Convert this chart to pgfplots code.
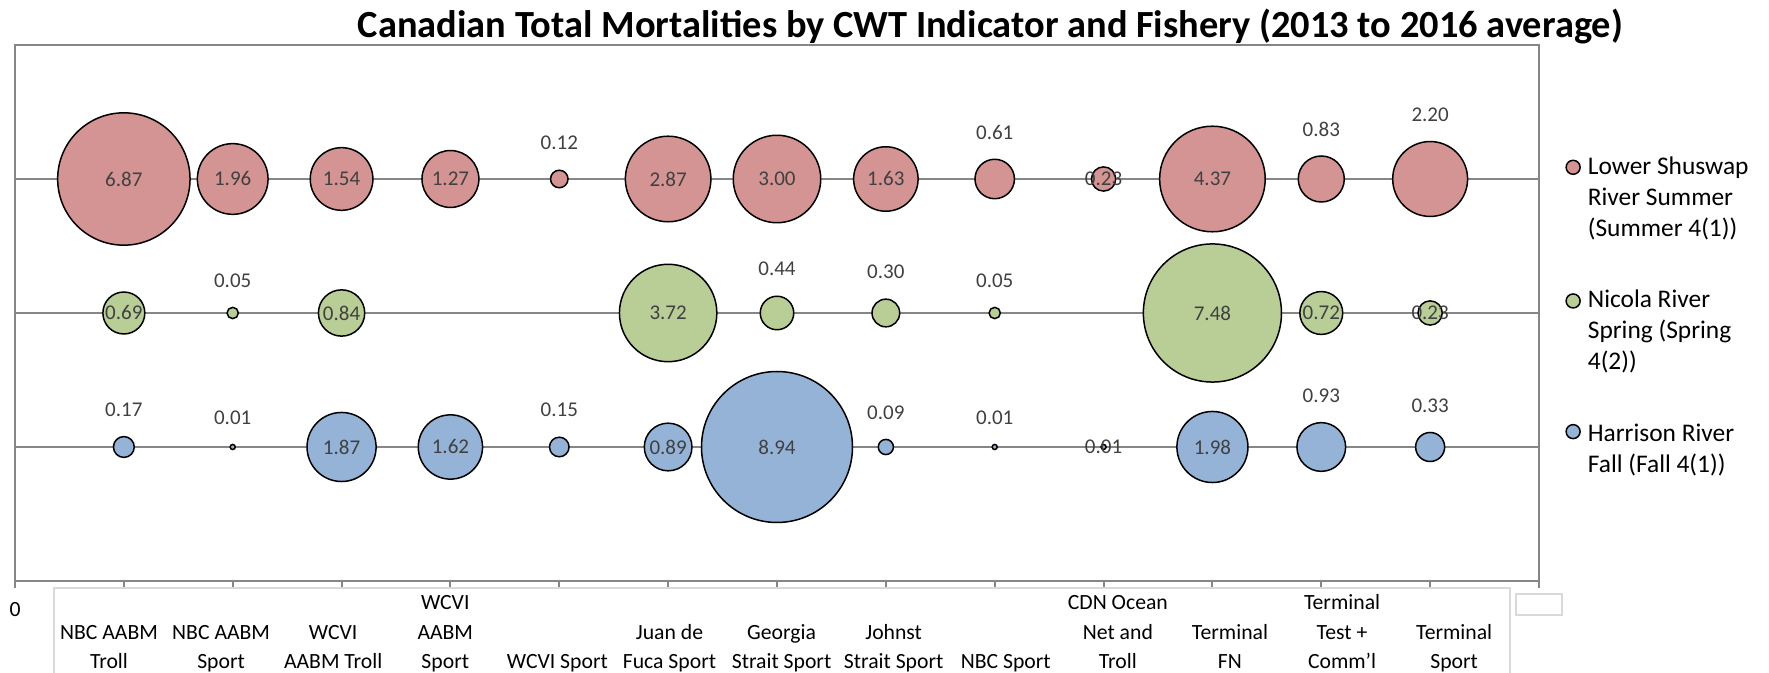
\documentclass[border=0pt]{standalone}
\usepackage{pgfplots}
\pgfplotsset{compat=1.18}
\usepackage{pgfplotstable}
\usepackage{fontspec}
\setmainfont{Carlito}
\definecolor{cRed}{HTML}{D49494}
\definecolor{cGreen}{HTML}{B9CD96}
\definecolor{cBlue}{HTML}{95B3D7}
\definecolor{cAxis}{HTML}{868686}
\definecolor{cLab}{HTML}{404040}
\definecolor{cBox}{HTML}{D9D9D9}

\pgfplotstableread{
x y v a
1 3 6.87 0
2 3 1.96 0
3 3 1.54 0
4 3 1.27 0
5 3 0.12 1
6 3 2.87 0
7 3 3.00 0
8 3 1.63 0
9 3 0.61 1
10 3 0.23 0
11 3 4.37 0
12 3 0.83 1
13 3 2.20 1
}\shuswap
\pgfplotstableread{
x y v a
1 2 0.69 0
2 2 0.05 1
3 2 0.84 0
6 2 3.72 0
7 2 0.44 1
8 2 0.30 1
9 2 0.05 1
11 2 7.48 0
12 2 0.72 0
13 2 0.23 0
}\nicola
\pgfplotstableread{
x y v a
1 1 0.17 1
2 1 0.01 1
3 1 1.87 0
4 1 1.62 0
5 1 0.15 1
6 1 0.89 0
7 1 8.94 0
8 1 0.09 1
9 1 0.01 1
10 1 0.01 0
11 1 1.98 0
12 1 0.93 1
13 1 0.33 1
}\harrison

\pgfplotsset{
  bubble/.style={
    scatter, only marks, mark=*,
    point meta=\thisrow{v},
    visualization depends on={12.625*sqrt(\thisrow{v}) \as \myrad},
    scatter/use mapped color={draw=black, fill=#1},
    scatter/@pre marker code/.append style={/tikz/mark size=\myrad},
    line width=0.75pt,
  },
  vlabels/.style={
    forget plot, only marks, mark=*, mark size=0pt, mark options={draw=none, fill=none},
    point meta=\thisrow{v},
    visualization depends on={12.625*sqrt(\thisrow{v}) \as \myrad},
    visualization depends on={\thisrow{a} \as \mylift},
    visualization depends on={\thisrow{v} \as \myval},
    nodes near coords={\pgfmathprintnumber[fixed,fixed zerofill,precision=2]{\myval}},
    every node near coord/.append style={anchor=center, text=cLab, font=\fontsize{10.5}{12}\selectfont, inner sep=0pt, yshift={\mylift*(\myrad+13.5)}},
  },
}

\begin{document}
\begin{tikzpicture}
\begin{axis}[
  scale only axis, width=762pt, height=268pt,
  xmin=0, xmax=14, ymin=0, ymax=4,
  clip=false,
  axis line style={draw=cAxis, line width=1pt},
  ytick={1,2,3}, yticklabel={\mbox{}}, ymajorgrids,
  grid style={draw=cAxis, line width=1pt},
  xtick={0,...,14}, xticklabel={\mbox{}},
  xtick pos=bottom, ytick pos=left,
  tick align=outside, major tick length=3.5pt,
  every tick/.style={cAxis, line width=1pt},
  y tick style={draw=none},
  extra x ticks={0,0.8635,1.8933,2.9230,3.9528,4.9826,6.0123,7.0421,8.0718,9.1016,10.1314,11.1611,12.1909,13.2206},
  extra x tick labels={{\raisebox{-3.5pt}{0}\\\mbox{}\\\mbox{}\strut},{NBC AABM\\Troll\strut},{NBC AABM\\Sport\strut},{WCVI\\AABM Troll\strut},{WCVI\\AABM\\Sport\strut},{WCVI Sport\strut},{Juan de\\Fuca Sport\strut},{Georgia\\Strait Sport\strut},{Johnst\\Strait Sport\strut},{NBC Sport\strut},{CDN Ocean\\Net and\\Troll\strut},{Terminal\\FN\strut},{Terminal\\Test +\\Comm'l\strut},{Terminal\\Sport\strut}},
  extra x tick style={major tick length=0pt, xticklabel style={anchor=south, yshift=-48.4pt, align=center, inner sep=0pt, font=\fontsize{10.85}{14.75}\selectfont}},
  /pgf/number format/assume math mode=true,
  title={Canadian Total Mortalities by CWT Indicator and Fishery (2013 to 2016 average)},
  title style={at={(axis description cs:0.64,1.0127)}, anchor=center, font=\fontsize{19.2}{23}\selectfont\bfseries},
  legend style={at={(axis description cs:1.0131,0.80)}, anchor=north west, draw=none, fill=none,
    font=\fontsize{12.7}{15.5}\selectfont, row sep=25.5pt, column sep=3.5pt,
    nodes={inner sep=0pt}, cells={align=left}},
  legend cell align=left,
]
\addplot[bubble=cRed, legend image code/.code={\draw[fill=cRed,draw=black,line width=0.75pt] (0pt,15.3pt) circle (3.5pt);}] table[x=x,y=y] {\shuswap};
\addlegendentry{Lower Shuswap\\River Summer\\(Summer 4(1))}
\addplot[bubble=cGreen, legend image code/.code={\draw[fill=cGreen,draw=black,line width=0.75pt] (0pt,15.3pt) circle (3.5pt);}] table[x=x,y=y] {\nicola};
\addlegendentry{Nicola River\\Spring (Spring\\4(2))}
\addplot[bubble=cBlue, legend image code/.code={\draw[fill=cBlue,draw=black,line width=0.75pt] (0pt,9.1pt) circle (3.5pt);}] table[x=x,y=y] {\harrison};
\addlegendentry{Harrison River\\Fall (Fall 4(1))}
\addplot[vlabels] table[x=x,y=y] {\shuswap};
\addplot[vlabels] table[x=x,y=y] {\nicola};
\addplot[vlabels] table[x=x,y=y] {\harrison};
\draw[cBox, line width=0.75pt] (axis description cs:0.0256,-0.185) |- (axis description cs:0.981,-0.0131) -- (axis description cs:0.981,-0.185);
\draw[cBox, line width=0.75pt] (axis description cs:0.985,-0.0243) rectangle (axis description cs:1.0151,-0.0634);
\coordinate (pSW) at (rel axis cs:0,0);
\coordinate (pNE) at (rel axis cs:1,1);
\end{axis}
\pgfresetboundingbox
\path[use as bounding box] ([xshift=-7.5pt,yshift=-46pt]pSW) rectangle ([xshift=115pt,yshift=22.5pt]pNE);
\end{tikzpicture}
\end{document}
